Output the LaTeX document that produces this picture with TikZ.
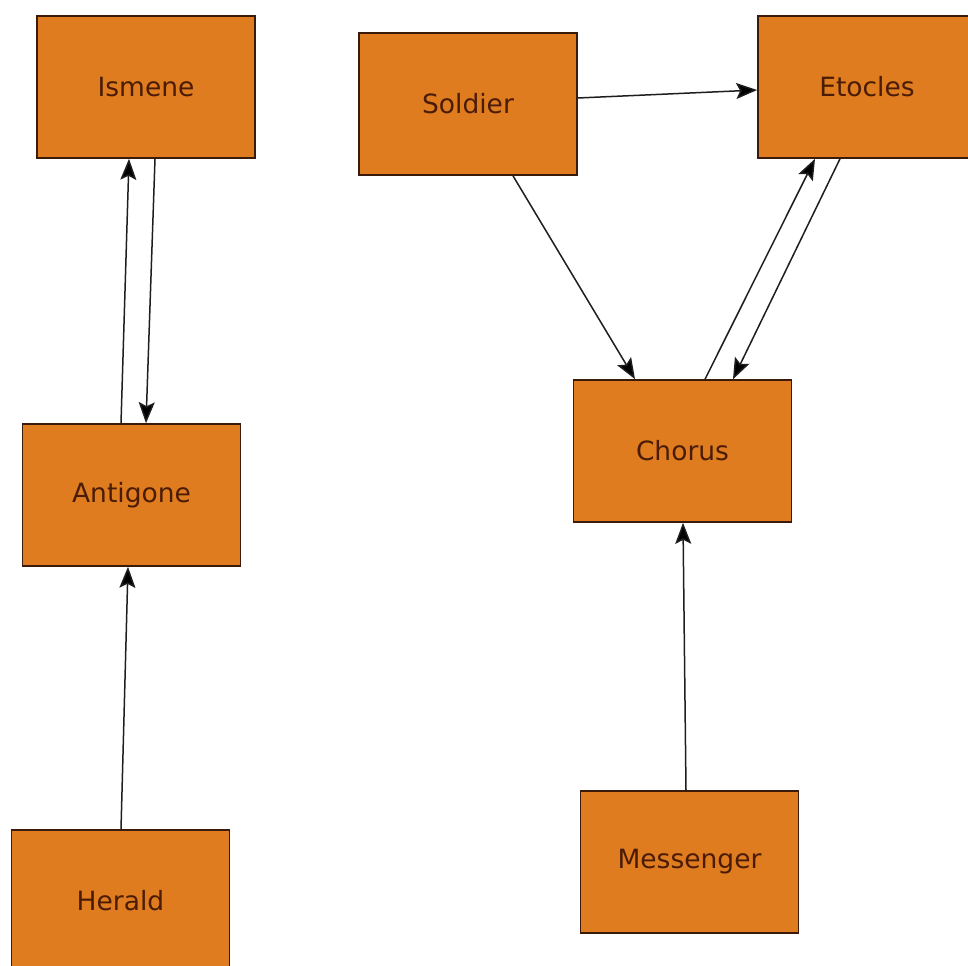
\documentclass[tikz,border=0pt]{standalone}
\usepackage{fontspec}
\setmainfont{DejaVu Sans}
\usetikzlibrary{arrows.meta}
\definecolor{boxfill}{HTML}{E07C20}
\definecolor{boxline}{HTML}{3A1A0A}
\definecolor{boxtext}{HTML}{4A1C05}
\definecolor{linkcol}{HTML}{1E1E1E}
\tikzset{
  role/.style={draw=boxline, line width=1.6bp, fill=boxfill, text=boxtext,
    minimum width=218bp, minimum height=142bp, inner sep=0pt,
    font=\fontsize{26.5bp}{30bp}\selectfont},
  link/.style={draw=linkcol, line width=1.5bp,
    -{Stealth[length=21bp,width=16bp,inset=4bp,fill=black]}}
}
\begin{document}
\begin{tikzpicture}[x=1bp,y=-1bp]
\useasboundingbox (0,0) rectangle (968,966);

% characters
\node[role] (ismene)    at (146,87)    {Ismene};
\node[role] (soldier)   at (468,104)   {Soldier};
\node[role] (etocles)   at (867,87)    {Etocles};
\node[role] (antigone)  at (131.5,495) {Antigone};
\node[role] (chorus)    at (682.5,451) {Chorus};
\node[role] (herald)    at (120.5,901) {Herald};
\node[role] (messenger) at (689.5,862) {Messenger};

% relations
\draw[link] ([xshift=-10.5bp]antigone.north) -- ([xshift=-17bp]ismene.south);
\draw[link] ([xshift=9bp]ismene.south) -- ([xshift=14.5bp]antigone.north);
\draw[link] ([yshift=6bp]soldier.east) -- ([yshift=-3bp]etocles.west);
\draw[link] ([xshift=45bp]soldier.south) -- ([xshift=-47.5bp]chorus.north);
\draw[link] ([xshift=22.5bp]chorus.north) -- ([xshift=-52bp]etocles.south);
\draw[link] ([xshift=-27bp]etocles.south) -- ([xshift=50.5bp]chorus.north);
\draw[link] ([xshift=0.5bp]herald.north) -- ([xshift=-3.5bp]antigone.south);
\draw[link] ([xshift=-3.5bp]messenger.north) -- ([xshift=0.5bp]chorus.south);
\end{tikzpicture}
\end{document}
